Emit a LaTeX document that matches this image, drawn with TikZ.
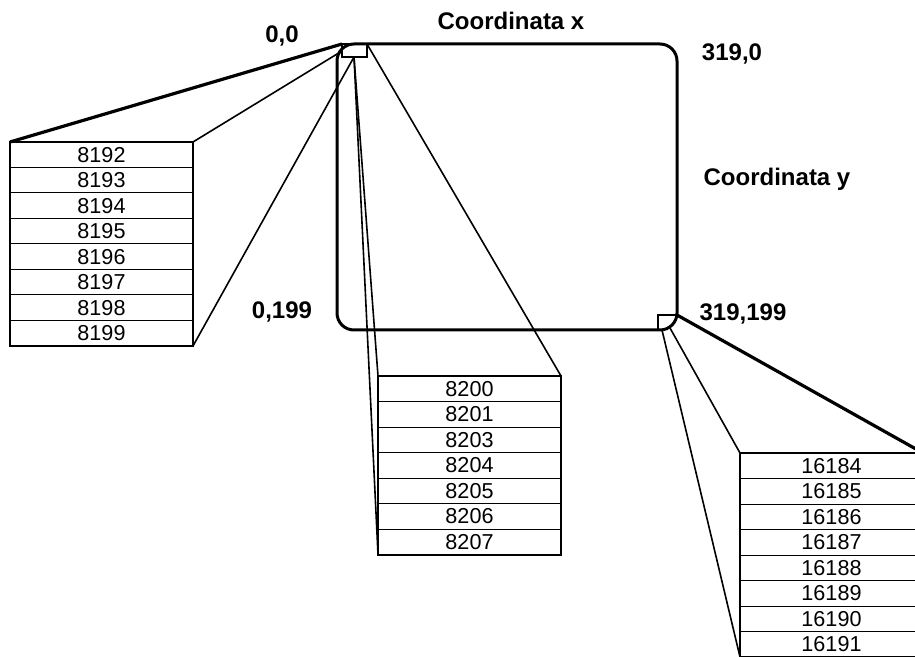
\documentclass[tikz,border=0pt]{standalone}
\usepackage{fontspec}
\setmainfont{Liberation Sans}
\usetikzlibrary{positioning}

\begin{document}
\begin{tikzpicture}[
      x=0.5pt, y=-0.5pt,
      cell/.style={draw, line width=0.5pt, minimum width=91.5pt,
        minimum height=12.75pt, inner sep=0pt, outer sep=0pt,
        font=\fontsize{10.8}{12}\selectfont},
      boxframe/.style={line width=1pt},
      monitor/.style={line width=1.5pt, rounded corners=8.5pt},
      fan/.style={line width=0.8pt},
      fanthick/.style={line width=1.6pt},
      coordlabel/.style={font=\fontsize{12}{14}\selectfont\bfseries}
    ]
  \path[use as bounding box, clip] (0,0) rectangle (915,657);

  % screen and the two pixels
  \draw[monitor] (337,44) rectangle (677,330);
  \draw[line width=1pt] (342,44) rectangle (367,57);
  \draw[line width=1pt] (658,330) -- (658,315) -- (677,315);

  \coordinate (p0nw) at (342,44);
  \coordinate (p0w) at (342,51);
  \coordinate (p0s) at (354,57);
  \coordinate (p0ne) at (367,44);
  \coordinate (p1ne) at (677,315);
  \coordinate (p1s) at (662,330);
  \coordinate (p1se) at (670,328);

  % bytes of the first pixel row
  \node[cell, anchor=north west] (a1) at (10,142) {8192};
  \node[cell, below=0pt of a1] (a2) {8193};
  \node[cell, below=0pt of a2] (a3) {8194};
  \node[cell, below=0pt of a3] (a4) {8195};
  \node[cell, below=0pt of a4] (a5) {8196};
  \node[cell, below=0pt of a5] (a6) {8197};
  \node[cell, below=0pt of a6] (a7) {8198};
  \node[cell, below=0pt of a7] (a8) {8199};
  \draw[boxframe] (a1.north west) rectangle (a8.south east);

  \node[cell, anchor=north west] (b1) at (378,376) {8200};
  \node[cell, below=0pt of b1] (b2) {8201};
  \node[cell, below=0pt of b2] (b3) {8203};
  \node[cell, below=0pt of b3] (b4) {8204};
  \node[cell, below=0pt of b4] (b5) {8205};
  \node[cell, below=0pt of b5] (b6) {8206};
  \node[cell, below=0pt of b6] (b7) {8207};
  \draw[boxframe] (b1.north west) rectangle (b7.south east);

  \node[cell, anchor=north west] (c1) at (740,453) {16184};
  \node[cell, below=0pt of c1] (c2) {16185};
  \node[cell, below=0pt of c2] (c3) {16186};
  \node[cell, below=0pt of c3] (c4) {16187};
  \node[cell, below=0pt of c4] (c5) {16188};
  \node[cell, below=0pt of c5] (c6) {16189};
  \node[cell, below=0pt of c6] (c7) {16190};
  \node[cell, below=0pt of c7] (c8) {16191};
  \draw[boxframe] (c1.north west) rectangle (c8.south east);

  % zoom lines
  \draw[fanthick] (a1.north west) -- (p0nw);
  \draw[fan] (a1.north east) -- (p0w);
  \draw[fan] (a8.south east) -- (p0s);
  \draw[fan] (b1.north east) -- (p0ne);
  \draw[fan] (b1.north west) -- (p0s);
  \draw[fan] (b7.south west) -- (p0s);
  \draw[fanthick] (c1.north east) -- (p1ne);
  \draw[fan] (c1.north west) -- (p1se);
  \draw[fan] (c8.south west) -- (p1s);

  \node[coordlabel] (xaxis) at (511,21) {Coordinata x};
  \node[coordlabel] (yaxis) at (777,179) {Coordinata y};
  \node[coordlabel] (origin) at (282,36) {0,0};
  \node[coordlabel] (topright) at (732,54) {319,0};
  \node[coordlabel] (bottomleft) at (282,312) {0,199};
  \node[coordlabel] (bottomright) at (743,314) {319,199};
\end{tikzpicture}
\end{document}
